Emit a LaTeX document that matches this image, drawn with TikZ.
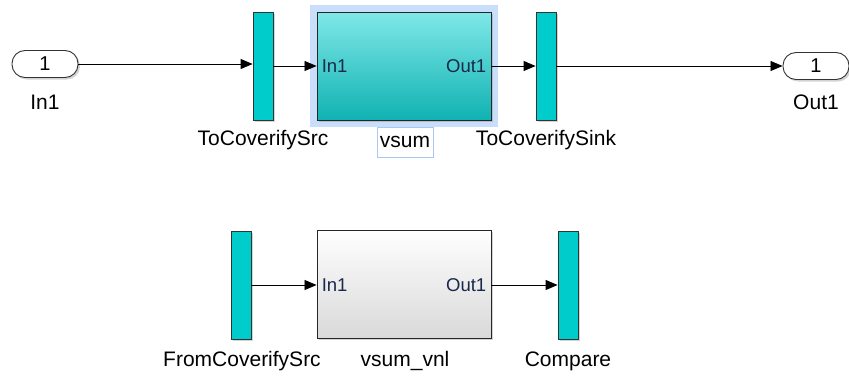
\documentclass[tikz,border=0pt]{standalone}
\usepackage{fontspec}
\setmainfont{Liberation Sans}
\usetikzlibrary{arrows.meta,shadows}

\definecolor{barcyan}{RGB}{0,204,204}
\definecolor{subtop}{RGB}{128,232,232}
\definecolor{subbot}{RGB}{16,178,178}
\definecolor{selblue}{RGB}{200,222,250}
\definecolor{lblblue}{RGB}{170,200,240}
\definecolor{portlbl}{RGB}{25,40,75}

\tikzset{
  sig/.style={-{Triangle[length=12pt,width=10pt]}, line width=0.8pt},
  shade/.style={drop shadow={shadow xshift=2pt, shadow yshift=-2pt, opacity=0.35}},
  bar/.style={draw=black!80, fill=barcyan, line width=0.8pt, minimum width=20pt, minimum height=108pt, inner sep=0pt, shade},
  subsys/.style={draw=black!85, line width=0.9pt, minimum width=174pt, minimum height=108pt, inner sep=0pt, shade},
  port/.style={draw=black!80, line width=0.9pt, rounded corners=13pt, minimum width=66pt, minimum height=27pt, inner sep=0pt, font=\fontsize{20}{22}\selectfont, shade, fill=white},
  lbl/.style={font=\fontsize{21}{24}\selectfont, inner sep=1pt},
  plbl/.style={font=\fontsize{18.5}{20}\selectfont, text=portlbl, inner sep=5pt}
}

\begin{document}
\begin{tikzpicture}[x=1pt, y=-1pt]
  \useasboundingbox (0,0) rectangle (849,375);

  % upper row
  \node[port] (in1) at (45,64) {1};
  \node[lbl] (in1lbl) at (45,102) {In1};

  \node[bar] (src) at (263,66) {};
  \node[lbl] (srclbl) at (263,140) {ToCoverifySrc};

  \draw[selblue, line width=7pt] (313.5,8.5) rectangle (494.5,123.5);
  \node[subsys, top color=subtop, bottom color=subbot] (vsum) at (404,66) {};
  \node[plbl, anchor=west] (vsumin) at (vsum.west) {In1};
  \node[plbl, anchor=east] (vsumout) at (vsum.east) {Out1};
  \node[lbl, draw=lblblue, line width=1pt, minimum width=56pt, minimum height=30pt] (vsumlbl) at (405,142) {vsum};

  \node[bar] (sink) at (546,66) {};
  \node[lbl] (sinklbl) at (546,140) {ToCoverifySink};

  \node[port] (out1) at (816,66) {1};
  \node[lbl] (out1lbl) at (816,102) {Out1};

  \draw[sig] (in1.east) -- (in1.east -| src.west);
  \draw[sig] (src.east) -- (vsum.west);
  \draw[sig] (vsum.east) -- (sink.west);
  \draw[sig] (sink.east) -- (out1.west);

  % lower row
  \node[bar] (fromsrc) at (241,285) {};
  \node[lbl] (fromsrclbl) at (242,361) {FromCoverifySrc};

  \node[subsys, top color=white, bottom color=black!15] (vnl) at (404,284) {};
  \node[plbl, anchor=west] (vnlin) at (vnl.west |- fromsrc) {In1};
  \node[plbl, anchor=east] (vnlout) at (vnl.east |- fromsrc) {Out1};
  \node[lbl] (vnllbl) at (405,361) {vsum\_vnl};

  \node[bar] (cmp) at (568,285) {};
  \node[lbl] (cmplbl) at (568,361) {Compare};

  \draw[sig] (fromsrc.east) -- (fromsrc.east -| vnl.west);
  \draw[sig] (fromsrc.east -| vnl.east) -- (cmp.west);
\end{tikzpicture}
\end{document}
